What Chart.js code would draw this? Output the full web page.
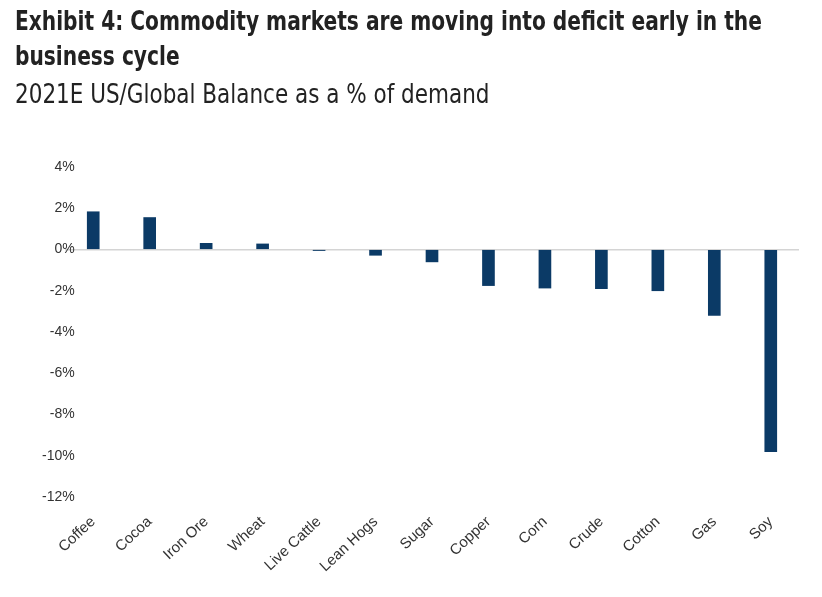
<!DOCTYPE html>
<html>
<head>
<meta charset="utf-8">
<script src="https://cdn.jsdelivr.net/npm/chart.js@4"></script>
<style>
  html, body { margin: 0; padding: 0; background: #fff; }
  #wrap { position: relative; width: 822px; height: 597px; }
  #titulo { position: absolute; left: 15px; top: 3px; font-family: 'Liberation Sans Narrow', 'DejaVu Sans Condensed', sans-serif; color: #222; white-space: nowrap; }
  #titulo h1 { margin: 0; font-size: 27px; line-height: 35px; font-weight: bold; transform-origin: 0 0; transform: scaleX(0.831); }
  #titulo p { margin: 3px 0 0 0; font-size: 26px; line-height: 36px; transform-origin: 0 0; transform: scaleX(0.92); }
  #grafico { position: absolute; left: 0; top: 0; }
</style>
</head>
<body>
<div id="wrap">
  <canvas id="grafico" width="822" height="597"></canvas>
  <div id="titulo">
    <h1>Exhibit 4: Commodity markets are moving into deficit early in the<br>business cycle</h1>
    <p>2021E US/Global Balance as a % of demand</p>
  </div>
</div>
<script>
// Dados
const categorias = ['Coffee', 'Cocoa', 'Iron Ore', 'Wheat', 'Live Cattle', 'Lean Hogs', 'Sugar', 'Copper', 'Corn', 'Crude', 'Cotton', 'Gas', 'Soy'];
const saldo = [1.83, 1.55, 0.3, 0.27, -0.05, -0.28, -0.6, -1.75, -1.87, -1.9, -2.0, -3.2, -9.8];
const limitesY = [-12, 4];
const passoY = 2;

document.addEventListener('DOMContentLoaded', function() {
  if (typeof Chart === 'undefined') {
    console.warn('Chart.js não está carregado');
    return;
  }

  const fonte = 'Arial, "Liberation Sans", sans-serif';

  new Chart(document.getElementById('grafico'), {
    type: 'bar',
    data: {
      labels: categorias,
      datasets: [{
        label: 'Balance',
        data: saldo,
        backgroundColor: '#0b3a66',
        barThickness: 12
      }]
    },
    options: {
      responsive: false,
      animation: false,
      layout: { padding: { top: 167, right: 23, left: 0, bottom: 0 } },
      plugins: { legend: { display: false }, tooltip: { enabled: false } },
      scales: {
        x: {
          offset: true,
          grid: { display: false },
          border: { display: false },
          ticks: {
            autoSkip: false,
            minRotation: 43,
            maxRotation: 43,
            padding: 8,
            color: '#333',
            font: { family: fonte, size: 15 }
          },
          afterFit: function(scale) { scale.height = 100; }
        },
        y: {
          min: limitesY[0],
          max: limitesY[1],
          afterFit: function(scale) { scale.width = 65; },
          border: { display: false },
          grid: {
            drawTicks: false,
            color: c => c.tick && c.tick.value === 0 ? '#d4d4d4' : 'rgba(0,0,0,0)',
            lineWidth: 1.5
          },
          ticks: {
            stepSize: passoY,
            // rótulos espelhados para não serem cortados pela largura fixa do eixo
            mirror: true,
            crossAlign: 'far',
            padding: -23,
            color: '#333',
            font: { family: fonte, size: 14 },
            callback: function(value) { return value + '%'; }
          }
        }
      }
    }
  });
});
</script>
</body>
</html>
